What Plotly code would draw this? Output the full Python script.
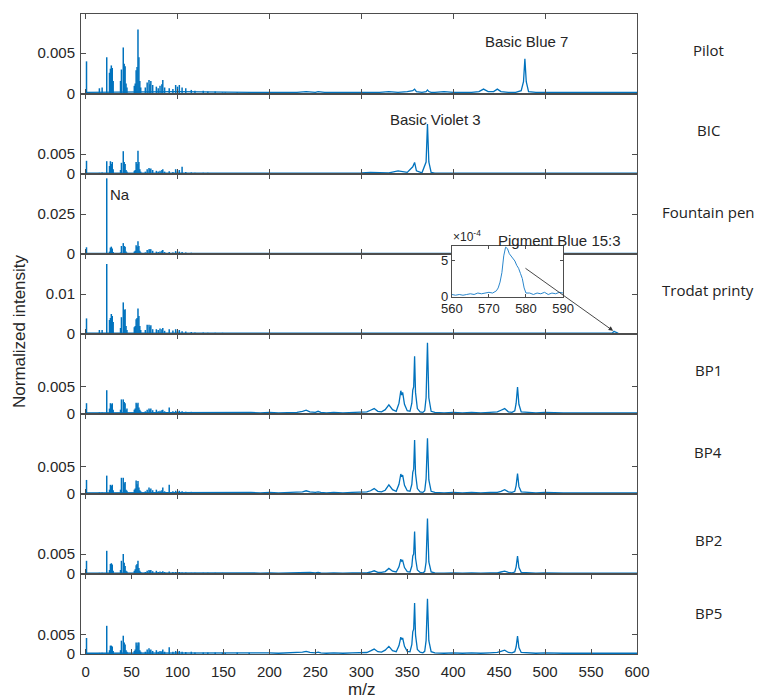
import plotly.graph_objects as go

# ---------------- data ----------------
PANEL_NAMES = ["Pilot", "BIC", "Fountain pen", "Trodat printy", "BP1", "BP4", "BP2", "BP5"]

# low-mass stick peaks (m/z) shared by all panels
LOW_MZ = [1, 15, 18, 23, 26, 27, 28, 29, 30,
          38, 39, 41, 42, 43, 44, 45,
          53, 54, 55, 56, 57, 58, 59, 60,
          65, 67, 69, 70, 71, 73,
          77, 79, 81, 83, 84, 86,
          91, 95, 98, 100, 102, 105,
          109, 115, 119, 128, 133, 141,
          149, 152, 165, 178]

PILOT_LOW = [0.0040, 0.0007, 0.0008, 0.0045, 0.0026, 0.0031, 0.0035, 0.0032, 0.0016,
             0.0016, 0.0030, 0.0057, 0.0037, 0.0034, 0.0013, 0.0008,
             0.0010, 0.0013, 0.0029, 0.0033, 0.0079, 0.0045, 0.0016, 0.0008,
             0.0008, 0.0014, 0.0017, 0.0012, 0.0016, 0.0011,
             0.0009, 0.0007, 0.0010, 0.0012, 0.0017, 0.0008,
             0.0007, 0.0006, 0.0011, 0.0009, 0.0011, 0.0008,
             0.0007, 0.0005, 0.0004, 0.0004, 0.0003, 0.0003,
             0.0002, 0.0002, 0.0002, 0.0002]
BIC_LOW = [0.0033, 0.0003, 0.0004, 0.0032, 0.0020, 0.0032, 0.0025, 0.0030, 0.0012,
           0.0010, 0.0028, 0.0057, 0.0030, 0.0025, 0.0010, 0.0006,
           0.0008, 0.0010, 0.0030, 0.0025, 0.0058, 0.0030, 0.0012, 0.0006,
           0.0006, 0.0012, 0.0015, 0.0012, 0.0014, 0.0010,
           0.0008, 0.0006, 0.0008, 0.0010, 0.0012, 0.0006,
           0.0007, 0.0005, 0.0012, 0.0008, 0.0010, 0.0018,
           0.0005, 0.0004, 0.0003, 0.0003, 0.0003, 0.0002,
           0.0002, 0.0002, 0.0002, 0.0002]
FOUNTAIN_LOW = [0.0042, 0.0004, 0.0005, 0.0473, 0.0015, 0.0040, 0.0046, 0.0035, 0.0012,
                0.0010, 0.0050, 0.0068, 0.0050, 0.0045, 0.0015, 0.0008,
                0.0015, 0.0020, 0.0055, 0.0045, 0.0079, 0.0050, 0.0020, 0.0010,
                0.0010, 0.0025, 0.0030, 0.0030, 0.0030, 0.0020,
                0.0015, 0.0012, 0.0015, 0.0020, 0.0025, 0.0012,
                0.0012, 0.0010, 0.0018, 0.0012, 0.0015, 0.0012,
                0.0010, 0.0008, 0.0006, 0.0006, 0.0005, 0.0005,
                0.0004, 0.0004, 0.0003, 0.0003]
TRODAT_LOW = [0.0039, 0.0010, 0.0010, 0.0175, 0.0035, 0.0040, 0.0050, 0.0045, 0.0030,
              0.0015, 0.0042, 0.0079, 0.0060, 0.0062, 0.0020, 0.0010,
              0.0017, 0.0020, 0.0037, 0.0040, 0.0064, 0.0045, 0.0020, 0.0010,
              0.0010, 0.0023, 0.0023, 0.0018, 0.0022, 0.0012,
              0.0012, 0.0010, 0.0014, 0.0012, 0.0015, 0.0008,
              0.0012, 0.0009, 0.0012, 0.0008, 0.0010, 0.0007,
              0.0006, 0.0005, 0.0004, 0.0004, 0.0003, 0.0003,
              0.0003, 0.0002, 0.0002, 0.0002]
BP1_LOW = [0.0020, 0.0003, 0.0003, 0.0044, 0.0010, 0.0020, 0.0018, 0.0020, 0.0008,
           0.0008, 0.0027, 0.0027, 0.0022, 0.0020, 0.0008, 0.0010,
           0.0008, 0.0010, 0.0021, 0.0018, 0.0021, 0.0012, 0.0008, 0.0005,
           0.0005, 0.0008, 0.0010, 0.0008, 0.0010, 0.0007,
           0.0008, 0.0005, 0.0006, 0.0007, 0.0008, 0.0005,
           0.0012, 0.0005, 0.0006, 0.0005, 0.0006, 0.0005,
           0.0004, 0.0004, 0.0003, 0.0003, 0.0003, 0.0003,
           0.0003, 0.0003, 0.0003, 0.0003]
BP4_LOW = [0.0026, 0.0003, 0.0003, 0.0034, 0.0008, 0.0017, 0.0015, 0.0017, 0.0007,
           0.0008, 0.0030, 0.0030, 0.0020, 0.0022, 0.0008, 0.0006,
           0.0008, 0.0010, 0.0025, 0.0018, 0.0024, 0.0012, 0.0007, 0.0005,
           0.0005, 0.0008, 0.0012, 0.0008, 0.0010, 0.0007,
           0.0008, 0.0005, 0.0006, 0.0007, 0.0012, 0.0005,
           0.0017, 0.0005, 0.0006, 0.0005, 0.0006, 0.0005,
           0.0004, 0.0004, 0.0003, 0.0003, 0.0003, 0.0003,
           0.0003, 0.0003, 0.0003, 0.0003]
BP2_LOW = [0.0033, 0.0003, 0.0003, 0.0058, 0.0010, 0.0025, 0.0027, 0.0024, 0.0008,
           0.0010, 0.0033, 0.0050, 0.0028, 0.0020, 0.0008, 0.0006,
           0.0008, 0.0012, 0.0022, 0.0025, 0.0033, 0.0015, 0.0008, 0.0005,
           0.0005, 0.0008, 0.0010, 0.0008, 0.0010, 0.0007,
           0.0008, 0.0005, 0.0006, 0.0005, 0.0007, 0.0005,
           0.0006, 0.0005, 0.0005, 0.0004, 0.0005, 0.0004,
           0.0004, 0.0003, 0.0003, 0.0003, 0.0003, 0.0003,
           0.0003, 0.0002, 0.0002, 0.0002]
BP5_LOW = [0.0042, 0.0003, 0.0003, 0.0074, 0.0010, 0.0022, 0.0022, 0.0020, 0.0008,
           0.0010, 0.0035, 0.0048, 0.0030, 0.0025, 0.0010, 0.0006,
           0.0008, 0.0012, 0.0030, 0.0022, 0.0030, 0.0030, 0.0010, 0.0006,
           0.0006, 0.0012, 0.0015, 0.0010, 0.0012, 0.0008,
           0.0010, 0.0006, 0.0008, 0.0007, 0.0012, 0.0006,
           0.0018, 0.0006, 0.0008, 0.0006, 0.0008, 0.0006,
           0.0005, 0.0006, 0.0004, 0.0004, 0.0004, 0.0004,
           0.0004, 0.0003, 0.0004, 0.0003]

# continuous profile of the ink panels (m/z grid shared by Pilot, BIC, Fountain pen, Trodat)
UP_PROF_MZ = [0, 100, 180, 190, 200, 210, 220, 230, 240, 250,
              253, 260, 270, 280, 290, 300, 310, 320, 330, 340,
              350, 356, 358, 360, 366, 370.5, 372, 373.5, 376, 380,
              390, 400, 410, 420, 428, 433, 438, 444, 448, 452,
              460, 468, 474, 476.5, 478, 479.5, 482, 490, 500, 510,
              520, 530, 540, 550, 560, 570, 580, 590, 600]
PILOT_PROF = [0.0002, 0.0003, 0.0002, 0.0002, 0.0002, 0.0002, 0.0002, 0.0002, 0.0003, 0.0002,
              0.0003, 0.0002, 0.0002, 0.0002, 0.0002, 0.0002, 0.0002, 0.0002, 0.0003, 0.0002,
              0.0003, 0.0004, 0.0006, 0.0003, 0.0002, 0.0003, 0.0005, 0.0003, 0.0002, 0.0002,
              0.0003, 0.0002, 0.0002, 0.0002, 0.0003, 0.0006, 0.0003, 0.0003, 0.0006, 0.0003,
              0.0002, 0.0002, 0.0004, 0.0015, 0.0043, 0.0015, 0.0003, 0.0002, 0.0002, 0.0002,
              0.0002, 0.0002, 0.0002, 0.0002, 0.0002, 0.0002, 0.0002, 0.0002, 0.0002]
BIC_PROF = [0.0002, 0.0003, 0.0002, 0.0002, 0.0002, 0.0002, 0.0002, 0.0002, 0.0002, 0.0002,
            0.0002, 0.0002, 0.0002, 0.0002, 0.0002, 0.0003, 0.0004, 0.0004, 0.0003, 0.0008,
            0.0004, 0.0018, 0.0029, 0.0008, 0.0003, 0.0030, 0.0125, 0.0030, 0.0004, 0.0002,
            0.0002, 0.0002, 0.0002, 0.0002, 0.0002, 0.0002, 0.0002, 0.0002, 0.0002, 0.0002,
            0.0002, 0.0002, 0.0002, 0.0002, 0.0002, 0.0002, 0.0002, 0.0002, 0.0002, 0.0002,
            0.0002, 0.0002, 0.0002, 0.0002, 0.0002, 0.0002, 0.0002, 0.0002, 0.0002]
FOUNTAIN_PROF = [0.0003, 0.0004, 0.0003, 0.0003, 0.0004, 0.0003, 0.0003, 0.0003, 0.0004, 0.0003,
                 0.0003, 0.0003, 0.0003, 0.0004, 0.0003, 0.0003, 0.0003, 0.0003, 0.0003, 0.0003,
                 0.0003, 0.0004, 0.0004, 0.0003, 0.0003, 0.0003, 0.0004, 0.0003, 0.0003, 0.0003,
                 0.0003, 0.0003, 0.0003, 0.0003, 0.0003, 0.0003, 0.0003, 0.0003, 0.0003, 0.0003,
                 0.0003, 0.0003, 0.0003, 0.0003, 0.0003, 0.0003, 0.0003, 0.0003, 0.0003, 0.0003,
                 0.0003, 0.0003, 0.0003, 0.0003, 0.0003, 0.0003, 0.0003, 0.0003, 0.0003]
TRODAT_PROF = [0.0002, 0.0003, 0.0002, 0.0002, 0.0002, 0.0002, 0.0002, 0.0002, 0.0002, 0.0002,
               0.0002, 0.0002, 0.0002, 0.0002, 0.0002, 0.0002, 0.0002, 0.0002, 0.0002, 0.0002,
               0.0002, 0.0002, 0.0002, 0.0002, 0.0002, 0.0002, 0.0002, 0.0002, 0.0002, 0.0002,
               0.0002, 0.0002, 0.0002, 0.0002, 0.0002, 0.0002, 0.0002, 0.0002, 0.0002, 0.0002,
               0.0002, 0.0002, 0.0002, 0.0002, 0.0002, 0.0002, 0.0002, 0.0002, 0.0002, 0.0002,
               0.0002, 0.0002, 0.0002, 0.0001, 0.0001, 0.0001, 0.0001, 0.0001, 0.0001]

# detail of Trodat printy around Pigment Blue 15:3 (inset)
INSET_MZ = [560, 561, 562, 563, 564, 565, 566, 567, 568, 569,
            570, 571, 572, 572.5, 573, 573.5, 574, 574.5, 575, 575.5,
            576, 576.5, 577, 577.5, 578, 578.5, 579, 579.5, 580, 581,
            582, 583, 584, 585, 586, 587, 588, 589, 590]
INSET_VAL = [0.000030, 0.000020, 0.000030, 0.000020, 0.000030, 0.000040, 0.000030, 0.000050, 0.000040, 0.000050,
             0.000060, 0.000050, 0.000080, 0.000120, 0.000200, 0.000330, 0.000560, 0.000680, 0.000660, 0.000590,
             0.000560, 0.000530, 0.000490, 0.000430, 0.000390, 0.000320, 0.000250, 0.000120, 0.000050, 0.000050,
             0.000030, 0.000050, 0.000040, 0.000060, 0.000030, 0.000050, 0.000040, 0.000060, 0.000050]

# continuous profile of the ballpoint panels
BP_PROF_MZ = [0, 100, 180, 190, 200, 210, 220, 230, 236, 240,
              244, 250, 253, 256, 262, 270, 280, 290, 300, 306,
              310, 314, 318, 322, 326, 330, 334, 338, 341, 343,
              344, 345, 347, 350, 353, 355, 356, 357, 358, 359,
              361, 364, 367, 369, 370.5, 372, 373.5, 376, 380, 390,
              400, 410, 420, 430, 440, 448, 452, 456, 460, 464,
              467, 468.5, 470, 471.5, 474, 480, 490, 500, 510, 520,
              530, 540, 550, 560, 570, 580, 590, 600]
BP1_PROF = [0.0002, 0.0003, 0.0003, 0.0002, 0.0003, 0.0002, 0.0003, 0.0003, 0.0005, 0.0007,
            0.0004, 0.0003, 0.0005, 0.0003, 0.0002, 0.0003, 0.0002, 0.0003, 0.0003, 0.0004,
            0.0007, 0.0010, 0.0005, 0.0004, 0.0008, 0.0017, 0.0008, 0.0005, 0.0020, 0.0043,
            0.0035, 0.0040, 0.0018, 0.0006, 0.0005, 0.0020, 0.0044, 0.0050, 0.0107, 0.0040,
            0.0010, 0.0004, 0.0003, 0.0006, 0.0030, 0.0132, 0.0030, 0.0005, 0.0003, 0.0002,
            0.0003, 0.0002, 0.0003, 0.0002, 0.0003, 0.0004, 0.0007, 0.0010, 0.0004, 0.0003,
            0.0006, 0.0020, 0.0050, 0.0018, 0.0004, 0.0003, 0.0002, 0.0003, 0.0002, 0.0002,
            0.0002, 0.0002, 0.0002, 0.0002, 0.0002, 0.0002, 0.0002, 0.0002]
BP4_PROF = [0.0002, 0.0003, 0.0003, 0.0002, 0.0003, 0.0002, 0.0003, 0.0003, 0.0004, 0.0006,
            0.0004, 0.0003, 0.0004, 0.0003, 0.0002, 0.0003, 0.0002, 0.0003, 0.0003, 0.0004,
            0.0006, 0.0010, 0.0005, 0.0004, 0.0007, 0.0017, 0.0008, 0.0005, 0.0018, 0.0037,
            0.0032, 0.0035, 0.0016, 0.0006, 0.0005, 0.0018, 0.0040, 0.0046, 0.0100, 0.0038,
            0.0010, 0.0004, 0.0003, 0.0006, 0.0028, 0.0103, 0.0026, 0.0005, 0.0003, 0.0002,
            0.0003, 0.0002, 0.0003, 0.0002, 0.0003, 0.0003, 0.0005, 0.0008, 0.0004, 0.0003,
            0.0005, 0.0016, 0.0038, 0.0014, 0.0004, 0.0003, 0.0002, 0.0003, 0.0002, 0.0002,
            0.0002, 0.0002, 0.0002, 0.0002, 0.0002, 0.0002, 0.0002, 0.0002]
BP2_PROF = [0.0002, 0.0003, 0.0003, 0.0002, 0.0003, 0.0002, 0.0003, 0.0003, 0.0004, 0.0005,
            0.0004, 0.0003, 0.0004, 0.0003, 0.0002, 0.0003, 0.0002, 0.0003, 0.0003, 0.0003,
            0.0005, 0.0008, 0.0004, 0.0004, 0.0006, 0.0014, 0.0007, 0.0005, 0.0018, 0.0037,
            0.0032, 0.0034, 0.0016, 0.0006, 0.0005, 0.0020, 0.0045, 0.0050, 0.0106, 0.0040,
            0.0010, 0.0004, 0.0003, 0.0006, 0.0030, 0.0139, 0.0030, 0.0005, 0.0003, 0.0002,
            0.0003, 0.0002, 0.0003, 0.0002, 0.0003, 0.0003, 0.0005, 0.0007, 0.0004, 0.0003,
            0.0005, 0.0018, 0.0045, 0.0016, 0.0004, 0.0003, 0.0002, 0.0003, 0.0002, 0.0002,
            0.0002, 0.0002, 0.0002, 0.0002, 0.0002, 0.0002, 0.0002, 0.0002]
BP5_PROF = [0.0002, 0.0003, 0.0003, 0.0002, 0.0003, 0.0002, 0.0003, 0.0003, 0.0005, 0.0007,
            0.0004, 0.0003, 0.0005, 0.0003, 0.0002, 0.0003, 0.0002, 0.0003, 0.0003, 0.0004,
            0.0008, 0.0013, 0.0006, 0.0005, 0.0010, 0.0020, 0.0009, 0.0006, 0.0022, 0.0044,
            0.0038, 0.0042, 0.0020, 0.0007, 0.0006, 0.0025, 0.0058, 0.0065, 0.0134, 0.0050,
            0.0012, 0.0005, 0.0003, 0.0007, 0.0035, 0.0145, 0.0035, 0.0006, 0.0003, 0.0002,
            0.0003, 0.0002, 0.0003, 0.0002, 0.0003, 0.0004, 0.0007, 0.0010, 0.0004, 0.0003,
            0.0006, 0.0019, 0.0047, 0.0017, 0.0004, 0.0003, 0.0002, 0.0003, 0.0002, 0.0002,
            0.0002, 0.0002, 0.0002, 0.0002, 0.0002, 0.0002, 0.0002, 0.0002]

Y_TICK = [0.005, 0.005, 0.025, 0.01, 0.005, 0.005, 0.005, 0.005]
Y_TICK_TEXT = ["0.005", "0.005", "0.025", "0.01", "0.005", "0.005", "0.005", "0.005"]
X_TICKS_BOTTOM = [0, 50, 100, 150, 200, 250, 300, 350, 400, 450, 500, 550, 600]
INSET_X_TICKS = [560, 570, 580, 590]

# ---------------- styling / layout constants ----------------
Y_TOP = [0.0098, 0.02, 0.05, 0.02, 0.0148, 0.0148, 0.02, 0.021]
BLUE = "#0072BD"
AX = "#4d4d4d"
TXT = "#262626"
FONT = "Liberation Sans, Arial, sans-serif"

low_sets = [PILOT_LOW, BIC_LOW, FOUNTAIN_LOW, TRODAT_LOW, BP1_LOW, BP4_LOW, BP2_LOW, BP5_LOW]
trodat_outside = [(m, v) for m, v in zip(UP_PROF_MZ, TRODAT_PROF) if m < INSET_MZ[0] or m > INSET_MZ[-1]]
trodat_pts = sorted(trodat_outside + list(zip(INSET_MZ, INSET_VAL)))
prof_sets = [
    (UP_PROF_MZ, PILOT_PROF),
    (UP_PROF_MZ, BIC_PROF),
    (UP_PROF_MZ, FOUNTAIN_PROF),
    ([p[0] for p in trodat_pts], [p[1] for p in trodat_pts]),
    (BP_PROF_MZ, BP1_PROF),
    (BP_PROF_MZ, BP4_PROF),
    (BP_PROF_MZ, BP2_PROF),
    (BP_PROF_MZ, BP5_PROF),
]

fig = go.Figure()
n = len(PANEL_NAMES)
layout = {}
for i in range(n):
    k = "" if i == 0 else str(i + 1)
    xa, ya = "x" + k, "y" + k
    sx, sy = [], []
    for m, h in zip(LOW_MZ, low_sets[i]):
        sx += [m, m, None]
        sy += [0, h, None]
    fig.add_trace(go.Scatter(x=sx, y=sy, mode="lines", line=dict(color=BLUE, width=1.5),
                             xaxis=xa, yaxis=ya, hoverinfo="skip", showlegend=False))
    px_, py_ = prof_sets[i]
    fig.add_trace(go.Scatter(x=px_, y=py_, mode="lines", line=dict(color=BLUE, width=1.3),
                             xaxis=xa, yaxis=ya, hoverinfo="skip", showlegend=False))
    bottom = i == n - 1
    layout["xaxis" + k] = dict(
        domain=[0, 1], range=[-5, 600], anchor=ya,
        showline=True, linecolor=AX, linewidth=1, mirror="ticks",
        ticks="inside", ticklen=5, tickcolor=AX, tickwidth=1,
        tickmode="array",
        tickvals=X_TICKS_BOTTOM if bottom else X_TICKS_BOTTOM[::2],
        showticklabels=bottom, showgrid=False, zeroline=False,
        tickfont=dict(family=FONT, size=15, color=TXT),
        ticklabelstandoff=4,
    )
    layout["yaxis" + k] = dict(
        domain=[1 - (i + 1) / n, 1 - i / n], range=[0, Y_TOP[i]], anchor=xa,
        showline=True, linecolor=AX, linewidth=1, mirror="ticks",
        ticks="inside", ticklen=5, tickcolor=AX, tickwidth=1,
        tickmode="array", tickvals=[0, Y_TICK[i]], ticktext=["0", Y_TICK_TEXT[i]],
        showgrid=False, zeroline=False,
        tickfont=dict(family=FONT, size=15, color=TXT),
        ticklabelstandoff=2,
    )

# inset
fig.add_trace(go.Scatter(x=INSET_MZ, y=INSET_VAL, mode="lines", line=dict(color="#2a86cc", width=1),
                         xaxis="x9", yaxis="y9", hoverinfo="skip", showlegend=False))
layout["xaxis9"] = dict(domain=[0.667, 0.867], range=[560, 590], anchor="y9",
                        showline=True, linecolor=AX, linewidth=1, mirror="ticks",
                        ticks="inside", ticklen=3, tickcolor=AX,
                        tickmode="array", tickvals=INSET_X_TICKS,
                        showgrid=False, zeroline=False,
                        tickfont=dict(family=FONT, size=13, color=TXT))
layout["yaxis9"] = dict(domain=[0.5583, 0.638], range=[0, 0.0007], anchor="x9",
                        showline=True, linecolor=AX, linewidth=1, mirror="ticks",
                        ticks="inside", ticklen=3, tickcolor=AX,
                        tickmode="array", tickvals=[0, 0.0005], ticktext=["0", "5"],
                        showgrid=False, zeroline=False,
                        tickfont=dict(family=FONT, size=13, color=TXT))

annotations = []
label_y = [0.9438, 0.8188, 0.6906, 0.5688, 0.4438, 0.3156, 0.1781, 0.0641]
for name, yy in zip(PANEL_NAMES, label_y):
    annotations.append(dict(text=name, xref="paper", yref="paper", x=1.1277, y=yy,
                            xanchor="center", yanchor="middle", showarrow=False,
                            font=dict(family="Open Sans, sans-serif", size=15, color="#222")))
annotations += [
    dict(text="Basic Blue 7", xref="x", yref="y", x=480, y=0.0064, showarrow=False,
         xanchor="center", yanchor="middle", font=dict(family=FONT, size=15, color=TXT)),
    dict(text="Basic Violet 3", xref="x2", yref="y2", x=381, y=0.01375, showarrow=False,
         xanchor="center", yanchor="middle", font=dict(family=FONT, size=15, color=TXT)),
    dict(text="Na", xref="x3", yref="y3", x=24.5, y=0.0375, showarrow=False,
         xanchor="left", yanchor="middle", font=dict(family=FONT, size=15, color=TXT)),
    dict(text="Pigment Blue 15:3", xref="paper", yref="paper", x=0.8615, y=0.646, showarrow=False,
         xanchor="center", yanchor="middle", font=dict(family=FONT, size=15, color=TXT)),
    dict(text="\u00d710<sup>-4</sup>", xref="paper", yref="paper", x=0.665, y=0.638, showarrow=False,
         xanchor="left", yanchor="bottom", font=dict(family=FONT, size=12, color=TXT)),
    dict(text="", xref="x4", yref="y4", x=574, y=0.0008, axref="x4", ayref="y4",
         ax=477, ay=0.0167, showarrow=True, arrowhead=2, arrowsize=1, arrowwidth=0.9,
         arrowcolor="#333"),
    dict(text="Normalized intensity", xref="paper", yref="paper", x=-0.1097, y=0.5047,
         textangle=-90, showarrow=False, xanchor="center", yanchor="middle",
         font=dict(family=FONT, size=17, color=TXT)),
    dict(text="m/z", xref="paper", yref="paper", x=0.505, y=-0.056, showarrow=False,
         xanchor="center", yanchor="middle", font=dict(family=FONT, size=17, color=TXT)),
]

# the page places the figure 8 px in from the top-left corner
fig.update_layout(
    width=756, height=692,
    margin=dict(l=73, r=127, t=6, b=46),
    paper_bgcolor="white", plot_bgcolor="white",
    showlegend=False, annotations=annotations,
    **layout,
)
fig.write_html("out.html")
